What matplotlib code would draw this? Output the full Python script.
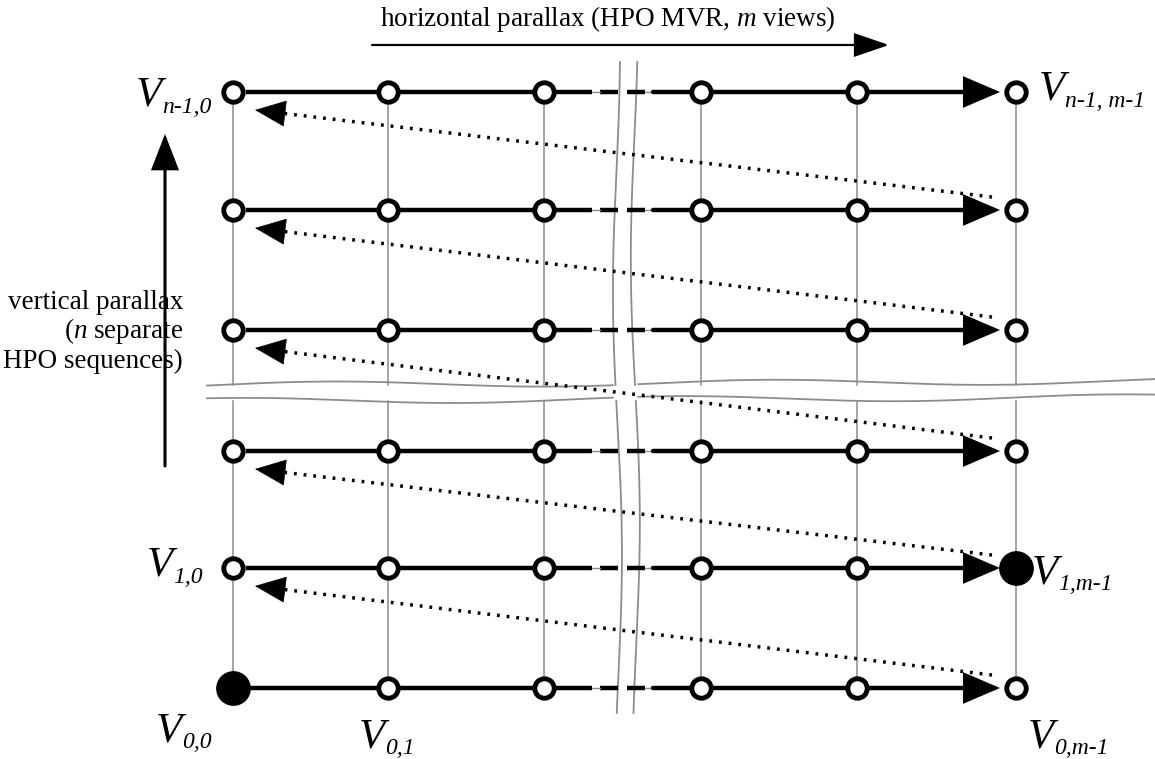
import numpy as np
import matplotlib
matplotlib.use("Agg")
import matplotlib.pyplot as plt
from matplotlib.patches import FancyArrowPatch

plt.rcParams["font.family"] = "Liberation Serif"
plt.rcParams["mathtext.fontset"] = "custom"
plt.rcParams["mathtext.rm"] = "Liberation Serif"
plt.rcParams["mathtext.it"] = "Liberation Serif:italic"

# grid of views (pixel positions in the picture)
cols = [233, 388, 544, 701, 857, 1016]
rows = [92, 210, 330, 451, 568, 688]
filled = [(5, 0), (4, 5)]            # (row index, col index) of the black nodes
band = (385, 401)                     # horizontal break band
vbreak = (616, 634)                   # vertical break band
gaps = [(592, 600), (618, 627), (645, 653)]

labels = [
    (136, 106, "n-1,0"),
    (1039, 100, "n-1, m-1"),
    (147, 576, "1,0"),
    (1032, 583, "1,m-1"),
    (156, 741, "0,0"),
    (359, 747, "0,1"),
    (1028, 747, "0,m-1"),
]
title = "horizontal parallax (HPO MVR, $m$ views)"
side_text = ["vertical parallax", "($n$ separate", "HPO sequences)"]

W, H = 1155, 759
fig = plt.figure(figsize=(W / 100, H / 100), dpi=100)
ax = fig.add_axes([0, 0, 1, 1])
ax.set_xlim(0, W)
ax.set_ylim(H, 0)
ax.axis("off")

GRAY = "#8c8c8c"


def arrow(p0, p1, lw, hl, hw, z=3):
    a = FancyArrowPatch(p0, p1, arrowstyle=f"-|>,head_length={hl},head_width={hw}",
                        mutation_scale=1, lw=lw, color="black", shrinkA=0, shrinkB=0,
                        joinstyle="miter", zorder=z)
    ax.add_patch(a)


# vertical gray grid lines, broken at the band
for x in cols:
    ax.plot([x, x], [rows[0], band[0]], color=GRAY, lw=1.1, zorder=1)
    ax.plot([x, x], [band[1], rows[-1]], color=GRAY, lw=1.1, zorder=1)

# wavy break lines
xs = np.linspace(207, W, 300)
for k, yb in enumerate(band):
    yy = yb + 3.0 * np.sin(xs / 70.0 + k * 1.3) - 0.004 * (xs - 207)
    left = xs <= vbreak[0]
    right = xs >= vbreak[1] + 3
    ax.plot(xs[left], yy[left], color=GRAY, lw=1.3, zorder=1)
    ax.plot(xs[right], yy[right], color=GRAY, lw=1.3, zorder=1)
for k, xb in enumerate(vbreak):
    for y0, y1 in [(62, band[0]), (band[1], 713)]:
        ys = np.linspace(y0, y1, 150)
        xx = xb + 4.0 * np.sin(ys / 80.0 + 1.0 + k * 0.4) + 0.004 * (ys - 62)
        ax.plot(xx, ys, color=GRAY, lw=1.3, zorder=1)

# horizontal HPO sequences
for y in rows:
    x0 = cols[0] + 13
    ax.plot([x0, gaps[0][0]], [y, y], color="black", lw=3.2, solid_capstyle="butt", zorder=2)
    ax.plot([gaps[0][1], gaps[1][0]], [y, y], color="black", lw=3.2, solid_capstyle="butt", zorder=2)
    ax.plot([gaps[1][1], gaps[2][0]], [y, y], color="black", lw=3.2, solid_capstyle="butt", zorder=2)
    for g in (gaps[0], gaps[2]):
        ax.plot(g, [y, y], color=GRAY, lw=1.0, zorder=2)
    arrow((gaps[2][1], y), (cols[-1] - 16, y), 3.2, 21, 9)

# dotted return arrows
for i in range(len(rows) - 1):
    start = np.array([992.0, rows[i + 1] - 13])
    tip = np.array([255.0, rows[i] + 18])
    d = (start - tip) / np.linalg.norm(start - tip)
    base = tip + d * 30
    ax.plot([start[0], base[0]], [start[1], base[1]], color="black", lw=2.5,
            linestyle=(0, (0.8, 2.0)), zorder=2)
    arrow(tuple(base), tuple(tip), 0.5, 21, 9)

# nodes
for r, y in enumerate(rows):
    for c, x in enumerate(cols):
        if (r, c) in filled:
            ax.plot(x, y, "o", ms=24, mfc="black", mec="black", zorder=5)
        else:
            ax.plot(x, y, "o", ms=14, mfc="white", mec="black", mew=3.5, zorder=5)

# axis arrows
arrow((372, 45), (889, 45), 1.6, 22, 7.5)
arrow((165, 466), (165, 134), 2.2, 22, 8.5)

ax.text(608, 26, title, fontsize=19.5, ha="center", va="baseline")
for k, line in enumerate(side_text):
    ax.text(183, 309 + k * 29.5, line, fontsize=19.5, ha="right", va="baseline")

fig.canvas.draw()
renderer = fig.canvas.get_renderer()
inv = ax.transData.inverted()
for x, y, sub in labels:
    t = ax.text(x, y, "V", fontsize=31, style="italic", ha="left", va="baseline")
    bb = t.get_window_extent(renderer)
    xr = inv.transform((bb.x1, bb.y0))[0]
    ax.text(xr, y + 7, sub, fontsize=17, style="italic", ha="left", va="baseline")

fig.savefig("out.png", dpi=100, facecolor="white")
